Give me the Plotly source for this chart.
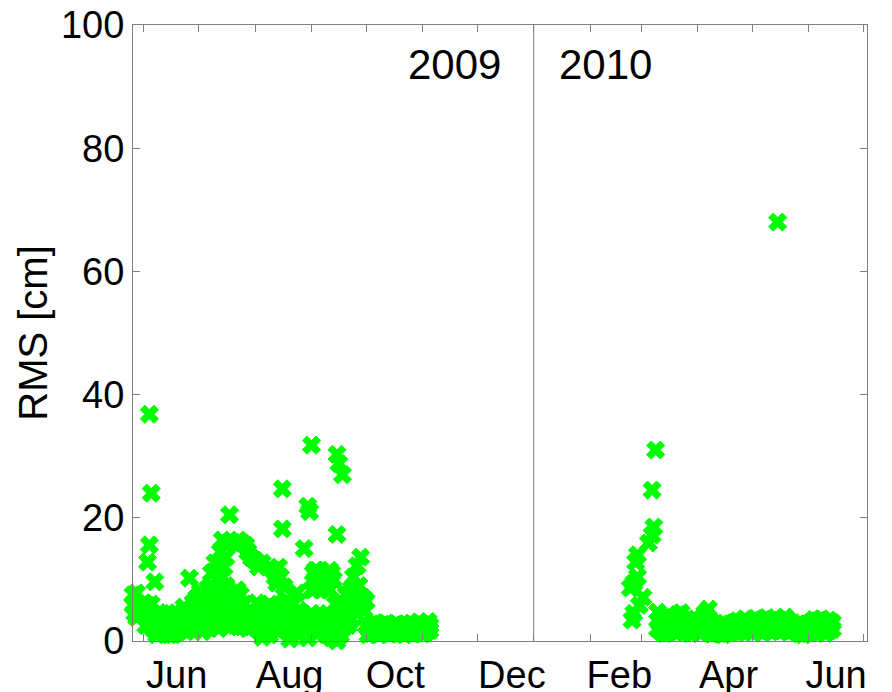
import plotly.graph_objects as go

# ---------------- data ----------------
dates_2009 = [
    "2009-05-26","2009-05-26","2009-05-27","2009-05-27","2009-05-28","2009-05-28","2009-05-30","2009-06-01","2009-06-01","2009-06-02","2009-06-02",
    "2009-06-03","2009-06-03","2009-06-04","2009-06-04","2009-06-04","2009-06-05","2009-06-05","2009-06-06","2009-06-07","2009-06-07","2009-06-08","2009-06-08","2009-06-09","2009-06-09",
    "2009-06-10","2009-06-11","2009-06-11","2009-06-12","2009-06-13","2009-06-13","2009-06-14","2009-06-15","2009-06-15","2009-06-16","2009-06-17","2009-06-17","2009-06-18",
    "2009-06-20","2009-06-22","2009-06-22","2009-06-23","2009-06-23","2009-06-24","2009-06-25","2009-06-26","2009-06-26","2009-06-27",
    "2009-06-28","2009-06-28","2009-06-29","2009-06-30","2009-06-30","2009-07-01","2009-07-01","2009-07-02","2009-07-03","2009-07-03","2009-07-04","2009-07-05",
    "2009-07-06","2009-07-06","2009-07-07","2009-07-07","2009-07-08","2009-07-08","2009-07-09","2009-07-09","2009-07-10","2009-07-10","2009-07-11","2009-07-11","2009-07-12","2009-07-12",
    "2009-07-13","2009-07-13","2009-07-14","2009-07-14","2009-07-14","2009-07-15","2009-07-15","2009-07-16","2009-07-16","2009-07-17","2009-07-17","2009-07-18","2009-07-18","2009-07-18",
    "2009-07-19","2009-07-19","2009-07-20","2009-07-20","2009-07-21","2009-07-21","2009-07-22","2009-07-22","2009-07-23","2009-07-23","2009-07-24","2009-07-24","2009-07-25","2009-07-25",
    "2009-07-26","2009-07-27","2009-07-27","2009-07-28","2009-07-28","2009-07-30","2009-07-30","2009-08-01","2009-08-01","2009-08-02","2009-08-02","2009-08-03","2009-08-03","2009-08-04",
    "2009-08-05","2009-08-05","2009-08-05","2009-08-06","2009-08-06","2009-08-07","2009-08-09","2009-08-09","2009-08-09","2009-08-10","2009-08-11","2009-08-11","2009-08-12","2009-08-12",
    "2009-08-13","2009-08-13","2009-08-14","2009-08-14","2009-08-14","2009-08-15","2009-08-15","2009-08-16","2009-08-16","2009-08-16","2009-08-17","2009-08-17","2009-08-17",
    "2009-08-18","2009-08-19","2009-08-19","2009-08-20","2009-08-20","2009-08-21","2009-08-22","2009-08-22","2009-08-24","2009-08-24","2009-08-25","2009-08-25","2009-08-26","2009-08-27",
    "2009-08-28","2009-08-28","2009-08-29","2009-08-30","2009-08-30","2009-08-30","2009-08-31","2009-08-31","2009-09-01","2009-09-01","2009-09-01","2009-09-02","2009-09-02",
    "2009-09-03","2009-09-03","2009-09-04","2009-09-04","2009-09-05","2009-09-05","2009-09-06","2009-09-06","2009-09-07","2009-09-07","2009-09-08","2009-09-09","2009-09-09","2009-09-10","2009-09-10",
    "2009-09-11","2009-09-11","2009-09-11","2009-09-12","2009-09-12","2009-09-12","2009-09-13","2009-09-13","2009-09-14","2009-09-14","2009-09-15","2009-09-15","2009-09-15","2009-09-16","2009-09-16","2009-09-17","2009-09-17",
    "2009-09-18","2009-09-18","2009-09-18","2009-09-19","2009-09-20","2009-09-20","2009-09-21","2009-09-22","2009-09-22","2009-09-23","2009-09-23","2009-09-24","2009-09-24",
    "2009-09-25","2009-09-25","2009-09-26","2009-09-26","2009-09-27","2009-09-27","2009-09-28","2009-09-28","2009-09-28","2009-09-29","2009-09-29","2009-09-30","2009-09-30","2009-10-01","2009-10-01",
    "2009-10-02","2009-10-02","2009-10-03","2009-10-04","2009-10-04","2009-10-05","2009-10-06","2009-10-06","2009-10-07","2009-10-08","2009-10-08","2009-10-09","2009-10-10","2009-10-10","2009-10-11",
    "2009-10-12","2009-10-12","2009-10-13","2009-10-14","2009-10-14","2009-10-15","2009-10-16","2009-10-16","2009-10-17","2009-10-18","2009-10-18","2009-10-19","2009-10-20","2009-10-20","2009-10-21",
    "2009-10-22","2009-10-22","2009-10-23","2009-10-24","2009-10-24","2009-10-25","2009-10-26","2009-10-26","2009-10-27","2009-10-28","2009-10-28","2009-10-29","2009-10-30","2009-10-30","2009-10-31",
    "2009-11-01","2009-11-01","2009-11-02","2009-11-03","2009-11-03","2009-11-04","2009-11-04","2009-11-05","2009-11-05",
]
rms_2009 = [
    7.5, 5.8, 6.2, 4.5, 7.8, 3.8, 5.0, 6.2, 4.2, 5.2, 2.5,
    12.8, 5.8, 15.6, 36.8, 4.0, 24.0, 6.0, 2.0, 9.6, 3.9, 2.9, 1.0, 4.5, 1.5,
    3.0, 4.5, 2.0, 1.2, 1.8, 3.5, 4.6, 3.4, 1.0, 2.2, 1.0, 4.0, 2.8,
    1.5, 4.5, 2.0, 2.9, 5.5, 1.5, 4.0, 10.2, 3.2, 5.0,
    6.2, 2.0, 4.0, 3.4, 7.0, 5.5, 2.5, 8.0, 4.5, 1.5, 6.5, 3.0,
    2.3, 8.5, 7.1, 4.0, 11.0, 9.0, 11.2, 5.5, 12.7, 3.4, 8.3, 5.5, 10.0, 2.0,
    14.5, 7.0, 16.4, 10.4, 3.9, 12.0, 6.0, 13.6, 9.0, 15.9, 5.5, 20.5, 15.9, 2.3,
    7.5, 3.9, 16.0, 5.5, 8.0, 2.5, 8.3, 15.5, 16.4, 6.2, 7.5, 3.0, 15.9, 2.3,
    6.0, 15.5, 4.5, 14.5, 2.0, 13.5, 4.5, 13.1, 3.0, 6.2, 2.9, 12.0, 5.0, 1.5,
    12.7, 0.6, 5.5, 4.0, 2.0, 5.5, 3.4, 6.0, 1.0, 4.5, 11.5, 2.5, 10.4, 5.5,
    9.4, 4.0, 12.0, 5.5, 1.5, 10.4, 3.5, 24.7, 18.2, 6.0, 2.0, 8.8, 4.8,
    4.5, 3.0, 6.5, 0.3, 2.0, 4.5, 6.0, 1.5, 7.8, 3.5, 5.0, 1.0, 2.5, 3.5,
    15.0, 4.0, 1.5, 21.9, 0.5, 3.0, 21.0, 2.5, 31.8, 8.3, 4.5, 8.3, 11.0,
    2.5, 11.5, 11.5, 4.0, 9.0, 1.5, 9.4, 3.0, 11.0, 2.0, 3.5, 1.0, 10.0, 8.3, 4.5,
    8.3, 11.5, 2.0, 11.0, 3.0, 0.5, 10.0, 1.5, 6.0, 2.5, 17.3, 30.3, 0.0, 28.8, 3.5, 6.2, 1.0,
    27.0, 6.2, 2.0, 5.5, 4.5, 7.5, 2.5, 7.8, 5.5, 8.5, 3.5, 10.4, 6.0,
    8.0, 5.0, 12.2, 6.5, 9.0, 7.0, 13.6, 7.1, 5.5, 7.1, 6.0, 6.2, 5.0, 6.5, 2.5,
    2.5, 1.0, 1.8, 2.8, 1.2, 2.0, 1.5, 3.0, 2.2, 1.0, 2.6, 1.9, 2.7, 1.3, 2.1,
    1.6, 2.9, 2.3, 1.1, 2.5, 1.8, 2.6, 1.4, 2.0, 1.2, 2.8, 2.2, 1.5, 2.4, 1.9,
    2.7, 1.0, 2.1, 1.4, 2.5, 1.8, 2.9, 1.2, 2.0, 1.3, 2.6, 2.2, 1.6, 3.1, 2.4,
    1.1, 2.7, 1.9, 2.8, 1.4, 2.1, 3.2, 1.7, 2.5,
]

dates_2010 = [
    "2010-02-23","2010-02-24","2010-02-25","2010-02-25","2010-02-26","2010-02-27","2010-02-27","2010-02-28","2010-03-02","2010-03-05","2010-03-07","2010-03-07","2010-03-08","2010-03-09",
    "2010-03-10","2010-03-10","2010-03-11","2010-03-12","2010-03-12","2010-03-13","2010-03-14","2010-03-14","2010-03-15","2010-03-16","2010-03-16","2010-03-17","2010-03-18","2010-03-18","2010-03-19",
    "2010-03-20","2010-03-20","2010-03-21","2010-03-22","2010-03-22","2010-03-23","2010-03-24","2010-03-24","2010-03-25","2010-03-26","2010-03-26","2010-03-27","2010-03-28","2010-03-28","2010-03-29",
    "2010-03-30","2010-03-30","2010-03-31","2010-04-01","2010-04-01","2010-04-02","2010-04-03","2010-04-03","2010-04-04","2010-04-05","2010-04-05","2010-04-06","2010-04-07","2010-04-07","2010-04-08",
    "2010-04-09","2010-04-09","2010-04-10","2010-04-11","2010-04-11","2010-04-12","2010-04-13","2010-04-13","2010-04-14","2010-04-15","2010-04-15","2010-04-16","2010-04-17","2010-04-17","2010-04-18",
    "2010-04-19","2010-04-19","2010-04-20","2010-04-21","2010-04-21","2010-04-22","2010-04-23","2010-04-23","2010-04-24","2010-04-25","2010-04-25","2010-04-26","2010-04-27","2010-04-27","2010-04-28",
    "2010-04-29","2010-04-29","2010-04-30","2010-05-01","2010-05-01","2010-05-02","2010-05-03","2010-05-03","2010-05-04","2010-05-05","2010-05-05","2010-05-06","2010-05-07","2010-05-07","2010-05-08",
    "2010-05-09","2010-05-09","2010-05-10","2010-05-11","2010-05-11","2010-05-12","2010-05-13","2010-05-13","2010-05-14","2010-05-15","2010-05-15","2010-05-16","2010-05-17","2010-05-17","2010-05-18",
    "2010-05-19","2010-05-19","2010-05-20","2010-05-21","2010-05-21","2010-05-22","2010-05-23","2010-05-23","2010-05-24","2010-05-25","2010-05-25","2010-05-26","2010-05-27","2010-05-27","2010-05-28",
    "2010-05-29","2010-05-29","2010-05-30","2010-05-31","2010-05-31","2010-06-01","2010-06-02","2010-06-02","2010-06-03","2010-06-04","2010-06-04","2010-06-05","2010-06-06","2010-06-06","2010-06-07",
    "2010-06-08","2010-06-08","2010-06-09","2010-06-10","2010-06-10","2010-06-11","2010-06-12","2010-06-12","2010-06-13","2010-06-14","2010-06-14",
]
rms_2010 = [
    8.6, 3.4, 9.4, 4.5, 12.8, 14.0, 10.4, 5.8, 7.1, 15.9, 17.2, 24.5, 18.5, 31.0,
    4.7, 2.0, 3.0, 1.5, 3.8, 2.4, 1.2, 3.2, 2.0, 3.5, 1.4, 2.6, 1.8, 3.9, 2.2,
    1.3, 3.0, 4.3, 2.5, 1.6, 4.6, 2.0, 3.3, 1.4, 3.6, 2.3, 1.7, 2.9, 1.2, 3.4,
    2.1, 1.5, 2.8, 1.6, 3.1, 2.4, 1.3, 3.5, 2.0, 4.5, 1.8, 2.7, 5.2, 1.4, 3.2,
    2.0, 1.1, 2.5, 1.5, 2.9, 2.2, 1.2, 2.0, 1.8, 2.6, 1.0, 2.1, 1.6, 2.4, 1.9,
    2.8, 1.3, 2.3, 1.5, 3.0, 2.0, 3.3, 1.4, 2.6, 1.8, 3.1, 2.4, 3.6, 1.5, 2.2,
    3.0, 1.7, 2.7, 1.4, 3.4, 2.5, 3.7, 1.8, 2.9, 1.6, 3.2, 2.3, 3.5, 1.3, 2.8,
    1.9, 3.8, 2.4, 3.3, 1.5, 2.6, 1.7, 3.6, 2.9, 68.0, 2.0, 3.4, 1.6, 2.7, 3.1,
    2.0, 3.9, 2.5, 1.4, 3.2, 2.3, 3.0, 1.7, 2.6, 1.5, 2.1, 1.9, 2.4, 1.2, 1.8,
    2.2, 1.0, 1.6, 2.8, 1.4, 2.0, 3.0, 1.3, 2.5, 1.6, 3.5, 2.2, 3.3, 1.4, 2.7,
    1.8, 3.6, 2.4, 1.2, 3.1, 2.0, 3.4, 1.6, 2.6, 3.0, 1.9,
]

month_label_dates = ["2009-06-19", "2009-08-20", "2009-10-17", "2009-12-20",
                     "2010-02-17", "2010-04-18", "2010-06-16"]
month_labels = ["Jun", "Aug", "Oct", "Dec", "Feb", "Apr", "Jun"]
month_starts = ["2009-06-01", "2009-07-01", "2009-08-01", "2009-09-01", "2009-10-01",
                "2009-11-01", "2009-12-01", "2010-01-01", "2010-02-01", "2010-03-01",
                "2010-04-01", "2010-05-01", "2010-06-01", "2010-07-01"]
x_range = ["2009-05-26", "2010-07-03"]
y_ticks = [0, 20, 40, 60, 80, 100]
year_split = "2010-01-01"
year_labels = ["2009", "2010"]

# ---------------- figure ----------------
FONT = "Liberation Sans, Arial, sans-serif"
GREEN = "#00ff00"
AXIS_GREY = "#808080"

marker = dict(symbol="x", size=16, color=GREEN, line=dict(width=1, color=GREEN))

fig = go.Figure()
fig.add_trace(go.Scatter(x=dates_2009, y=rms_2009, mode="markers",
                         marker=marker, showlegend=False, cliponaxis=False))
fig.add_trace(go.Scatter(x=dates_2010, y=rms_2010, mode="markers",
                         marker=marker, showlegend=False, cliponaxis=False))

fig.add_shape(type="line", x0=year_split, x1=year_split, y0=0, y1=1,
              xref="x", yref="paper", line=dict(color=AXIS_GREY, width=1))

fig.add_annotation(x=year_split, y=93.6, xref="x", yref="y", text=year_labels[0],
                   showarrow=False, xanchor="right", yanchor="middle", xshift=-31,
                   font=dict(family=FONT, size=42, color="black"))
fig.add_annotation(x=year_split, y=93.6, xref="x", yref="y", text=year_labels[1],
                   showarrow=False, xanchor="left", yanchor="middle", xshift=23,
                   font=dict(family=FONT, size=42, color="black"))

# page body has an 8px default margin: figure is sized so the plot lands in place
fig.update_layout(
    width=884, height=684,
    margin=dict(l=125, r=25, t=17, b=51),
    paper_bgcolor="white", plot_bgcolor="white",
    font=dict(family=FONT, color="black"),
)
fig.update_xaxes(
    type="date", range=x_range, automargin=False, ticklabeloverflow="allow",
    tickmode="array", tickvals=month_label_dates, ticktext=month_labels,
    ticks="", showgrid=False, zeroline=False,
    showline=True, linecolor=AXIS_GREY, linewidth=1, mirror="ticks",
    tickfont=dict(family=FONT, size=38, color="black"),
    minor=dict(tickmode="array", tickvals=month_starts, ticks="inside",
               ticklen=7, tickcolor=AXIS_GREY, showgrid=False),
)
fig.update_yaxes(
    range=[0, 100], tickmode="array", tickvals=y_ticks, automargin=False,
    ticklabeloverflow="allow",
    ticks="inside", ticklen=7, tickcolor=AXIS_GREY,
    showgrid=False, zeroline=False,
    showline=True, linecolor=AXIS_GREY, linewidth=1, mirror="ticks",
    tickfont=dict(family=FONT, size=38, color="black"),
    title=dict(text="RMS [cm]", font=dict(family=FONT, size=40, color="black"), standoff=0),
)

fig.write_html("out.html")
